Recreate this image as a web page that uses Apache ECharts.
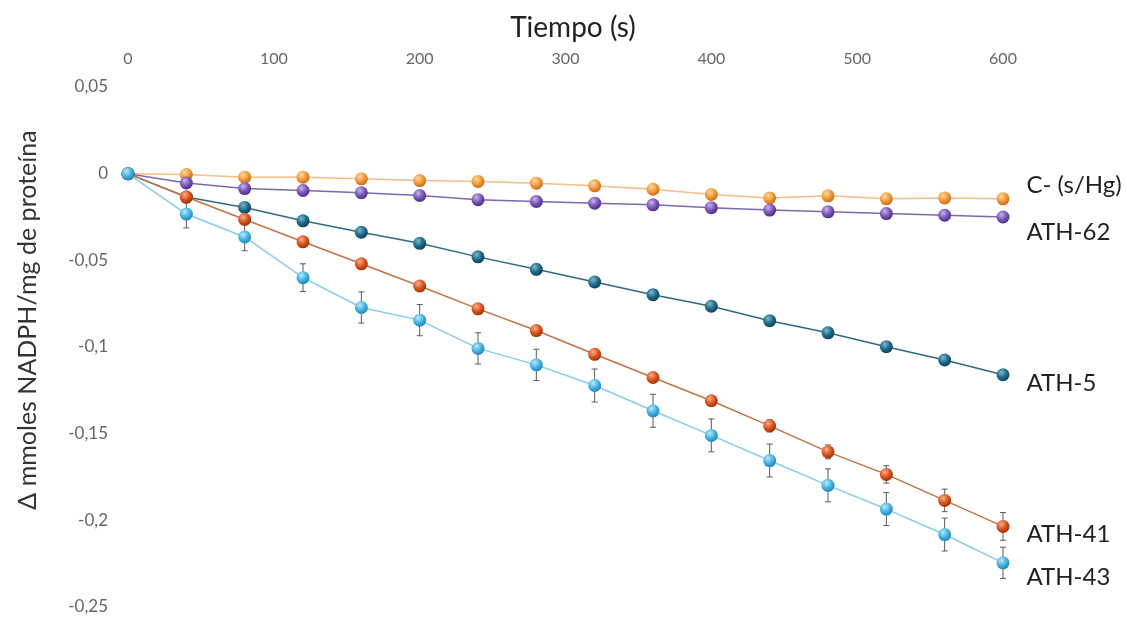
<!DOCTYPE html>
<html>
<head>
<meta charset="utf-8">
<script src="https://cdn.jsdelivr.net/npm/echarts@6/dist/echarts.min.js"></script>
<style>
html,body{margin:0;padding:0;background:#fff;}
#chart{width:1127px;height:620px;}
</style>
</head>
<body>
<div id="chart"></div>
<script>
// ---- Data ----
const times = [0, 40, 80, 120, 160, 200, 240, 280, 320, 360, 400, 440, 480, 520, 560, 600];
const seriesNames = ['C- (s/Hg)', 'ATH-62', 'ATH-5', 'ATH-41', 'ATH-43'];

const cNeg  = [0, -0.0005, -0.002, -0.002, -0.003, -0.004, -0.0045, -0.0055, -0.007, -0.009, -0.012, -0.014, -0.0128, -0.0145, -0.014, -0.0145];
const ath62 = [0, -0.0054, -0.0086, -0.0097, -0.011, -0.0126, -0.015, -0.016, -0.017, -0.018, -0.0196, -0.021, -0.022, -0.023, -0.024, -0.025];
const ath5  = [0, -0.0135, -0.0195, -0.0272, -0.0338, -0.0402, -0.048, -0.0552, -0.0625, -0.0698, -0.0765, -0.0848, -0.0918, -0.0998, -0.1075, -0.116];
const ath41 = [0, -0.0135, -0.0264, -0.0393, -0.052, -0.0648, -0.078, -0.0905, -0.1042, -0.1176, -0.131, -0.1455, -0.1605, -0.1735, -0.1885, -0.2035];
const ath43 = [0, -0.0233, -0.0365, -0.0600, -0.0772, -0.0845, -0.1008, -0.1103, -0.1222, -0.1368, -0.151, -0.1655, -0.1798, -0.1935, -0.2082, -0.2245];

const err62 = [0, 0.001, 0.001, 0.003, 0.001, 0.001, 0.001, 0.001, 0.002, 0.002, 0.002, 0.002, 0.002, 0.003, 0.003, 0.003];
const err41 = [0, 0.001, 0.001, 0.0015, 0.0015, 0.0015, 0.002, 0.002, 0.002, 0.002, 0.0025, 0.0035, 0.004, 0.005, 0.0065, 0.008];
const err43 = [0, 0.008, 0.008, 0.008, 0.009, 0.009, 0.009, 0.009, 0.0095, 0.0095, 0.0095, 0.0095, 0.0095, 0.0095, 0.0095, 0.009];

const xTitle = 'Tiempo (s)';
const yTitle = 'Δ mmoles NADPH/mg de proteína';

// ---- Styles ----
const FONT = 'Lato';
const styles = [
  {base:'#F29A3A', light:'#FFD9A8', dark:'#C86A12', line:'#F7BE85', dy:-14},
  {base:'#7A56B8', light:'#C7B3EA', dark:'#4B2E85', line:'#7C68B0', dy:15},
  {base:'#1F6C8A', light:'#7FB8CF', dark:'#0E3F55', line:'#2E6A80', dy:9},
  {base:'#DA5320', light:'#FFB08A', dark:'#9E3008', line:'#C27444', dy:8},
  {base:'#45B4E4', light:'#BDE8FA', dark:'#1F85B8', line:'#86CCEA', dy:14}
];
const values = [cNeg, ath62, ath5, ath41, ath43];
const errs = [null, err62, null, err41, err43];

function sphere(s){
  return new echarts.graphic.RadialGradient(0.38, 0.32, 0.7, [
    {offset:0, color:s.light},
    {offset:0.55, color:s.base},
    {offset:1, color:s.dark}
  ]);
}

const series = [];
values.forEach((vals, k) => {
  const s = styles[k];
  if (errs[k]) {
    series.push({
      type:'custom',
      z:1,
      silent:true,
      encode:{x:0, y:1},
      data: times.map((t,i) => [t, vals[i], errs[k][i]]),
      renderItem: function(params, api){
        const x = api.value(0), y = api.value(1), e = api.value(2);
        if (!e) return null;
        const top = api.coord([x, y + e]);
        const bot = api.coord([x, y - e]);
        const w = 3;
        const st = {stroke:'#5a5a5a', lineWidth:1};
        return {type:'group', children:[
          {type:'line', shape:{x1:top[0], y1:top[1], x2:bot[0], y2:bot[1]}, style:st},
          {type:'line', shape:{x1:top[0]-w, y1:top[1], x2:top[0]+w, y2:top[1]}, style:st},
          {type:'line', shape:{x1:bot[0]-w, y1:bot[1], x2:bot[0]+w, y2:bot[1]}, style:st}
        ]};
      }
    });
  }
  series.push({
    name: seriesNames[k],
    type:'line',
    z:2 + k,
    symbol:'circle',
    symbolSize:13,
    showSymbol:true,
    animation:false,
    lineStyle:{color:s.line, width:1.5},
    itemStyle:{color:sphere(s), borderWidth:0},
    data: times.map((t,i) => {
      const d = {value:[t, vals[i]]};
      if (i === times.length - 1) {
        d.label = {
          show:true, position:'right', distance:17,
          offset:[0, s.dy],
          formatter: seriesNames[k],
          fontFamily: FONT, fontSize:24, color:'#222'
        };
      }
      return d;
    })
  });
});

const chart = echarts.init(document.getElementById('chart'), null, {renderer:'canvas'});
chart.setOption({
  animation:false,
  backgroundColor:'#ffffff',
  title:{
    text: xTitle,
    left: 568, top: 9, textAlign:'center',
    textStyle:{fontFamily:FONT, fontSize:28, fontWeight:'normal', color:'#222'}
  },
  graphic:[{
    type:'text',
    x: 28, y: 320,
    rotation: Math.PI / 2,
    style:{
      text: yTitle,
      fontFamily: FONT, fontSize: 25, fill:'#333',
      align:'center', verticalAlign:'middle'
    }
  }],
  grid:{left:128, right:124, top:87, bottom:13},
  xAxis:{
    type:'value', position:'top', min:0, max:600, interval:100,
    axisLine:{show:false}, axisTick:{show:false}, splitLine:{show:false},
    axisLabel:{margin:20, fontFamily:FONT, fontSize:16, color:'#666'}
  },
  yAxis:{
    type:'value', min:-0.25, max:0.05, interval:0.05,
    axisLine:{show:false}, axisTick:{show:false}, splitLine:{show:false},
    axisLabel:{margin:20, fontFamily:FONT, fontSize:17, color:'#666',
      formatter: v => String(Math.round(v*100)/100).replace('.', ',')}
  },
  series: series
});
</script>
</body>
</html>
